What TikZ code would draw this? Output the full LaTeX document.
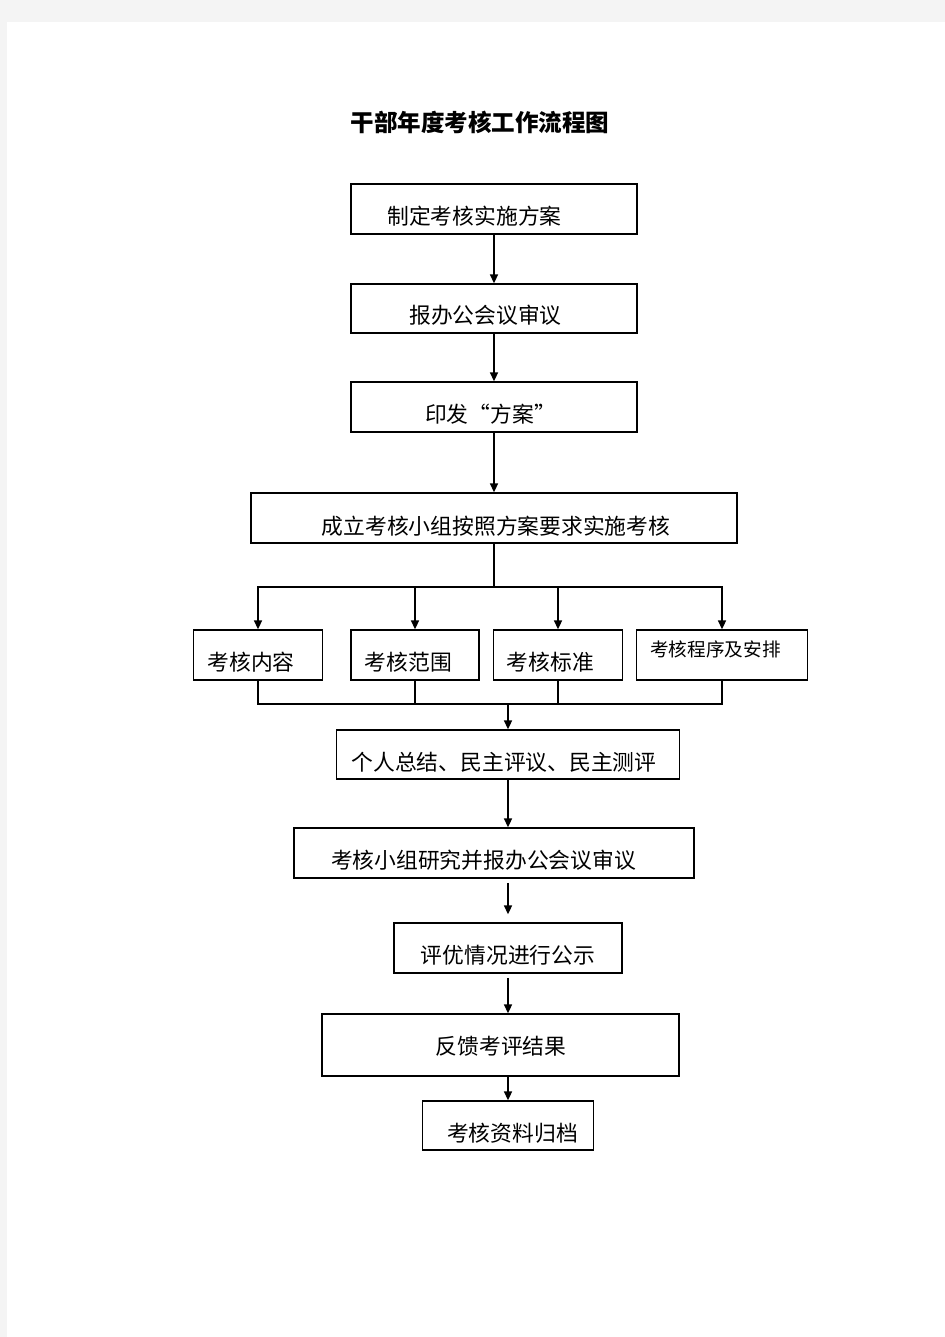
\documentclass[tikz,border=0pt]{standalone}
\usepackage{fontspec}
\newfontfamily\cjk{Noto Sans CJK SC}
\usetikzlibrary{arrows.meta}
\definecolor{pagegray}{HTML}{F4F4F4}
\newdimen\px \px=0.02cm
\begin{document}
\begin{tikzpicture}[x={(0.02cm,0)},y={(0,-0.02cm)},
  box/.style={draw=black,line width=0.85pt,inner sep=0pt},
  txt/.style={inner sep=0pt,font=\cjk\fontsize{12.4}{14}\selectfont},
  smalltxt/.style={inner sep=0pt,font=\cjk\fontsize{10.6}{12}\selectfont},
  line/.style={draw=black,line width=1pt},
  arr/.style={line,-{Triangle[length=5pt,width=4.5pt]}}]
\useasboundingbox (0,0) rectangle (945,1337);
\fill[pagegray] (0,0) rectangle (945,1337);
\fill[white] (7,22) rectangle (945,1337);
% title
\node[inner sep=0pt,font=\cjk\bfseries\fontsize{13.4}{15}\selectfont] (title) at (480,122) {干部年度考核工作流程图};
% main boxes
\node[box,minimum width=286\px,minimum height=50\px] (b1) at (494,209) {};
\node[txt] (t1) at (474.5,216) {制定考核实施方案};
\node[box,minimum width=286\px,minimum height=49\px] (b2) at (494,308.5) {};
\node[txt] (t2) at (485.5,315) {报办公会议审议};
\node[box,minimum width=286\px,minimum height=50\px] (b3) at (494,407) {};
\node[txt] (t3) at (490.5,414) {印发“方案”};
\node[box,minimum width=486\px,minimum height=50\px] (b4) at (494,518) {};
\node[txt] (t4) at (496,526) {成立考核小组按照方案要求实施考核};
% row of four
\node[box,minimum width=129\px,minimum height=50\px] (c1) at (258,655) {};
\node[txt] (u1) at (251,662) {考核内容};
\node[box,minimum width=128\px,minimum height=50\px] (c2) at (415,655) {};
\node[txt] (u2) at (408.5,662) {考核范围};
\node[box,minimum width=129\px,minimum height=50\px] (c3) at (558,655) {};
\node[txt] (u3) at (550.5,662) {考核标准};
\node[box,minimum width=171\px,minimum height=50\px] (c4) at (722,655) {};
\node[smalltxt] (u4) at (715.5,649) {考核程序及安排};
% lower boxes
\node[box,minimum width=343\px,minimum height=49\px] (b6) at (508,754.5) {};
\node[txt] (t6) at (504,762) {个人总结、民主评议、民主测评};
\node[box,minimum width=400\px,minimum height=50\px] (b7) at (494,853) {};
\node[txt] (t7) at (483.5,860) {考核小组研究并报办公会议审议};
\node[box,minimum width=228\px,minimum height=50\px] (b8) at (508,948) {};
\node[txt] (t8) at (508,955) {评优情况进行公示};
\node[box,minimum width=357\px,minimum height=62\px] (b9) at (500.5,1045) {};
\node[txt] (t9) at (501,1046) {反馈考评结果};
\node[box,minimum width=171\px,minimum height=49\px] (b10) at (508,1125.5) {};
\node[txt] (t10) at (512.5,1133) {考核资料归档};
% connectors
\draw[arr] (b1.south) -- (b2.north);
\draw[arr] (b2.south) -- (b3.north);
\draw[arr] (b3.south) -- (b4.north);
\coordinate (split) at (494,587);
\draw[line] (b4.south) -- (split);
\draw[arr] (split) -| (c1.north);
\draw[arr] (split) -| (c2.north);
\draw[arr] (split) -| (c3.north);
\draw[arr] (split) -| (c4.north);
\coordinate (merge) at (508,704);
\draw[line] (c1.south) |- (merge);
\draw[line] (c2.south) |- (merge);
\draw[line] (c3.south) |- (merge);
\draw[line] (c4.south) |- (merge);
\draw[arr] (merge) -- (b6.north);
\draw[arr] (b6.south) -- (b6.south |- b7.north);
\draw[arr,shorten <=4\px,shorten >=8\px] (b7.south -| b8.north) -- (b8.north);
\draw[arr,shorten <=4\px] (b8.south) -- (b8.south |- b9.north);
\draw[arr] (b9.south -| b10.north) -- (b10.north);
\end{tikzpicture}
\end{document}
